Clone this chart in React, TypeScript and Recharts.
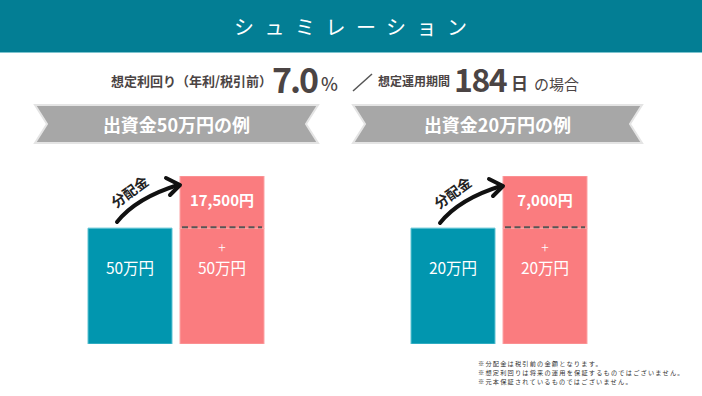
import React from 'react';
import { BarChart, Bar, XAxis, YAxis, Cell, LabelList } from 'recharts';

// ---- data ----
const TITLE = 'シュミレーション';
const rateLabel = '想定利回り（年利/税引前）';
const rateValue = '7.0';
const periodLabel = '想定運用期間';
const periodDays = '184';
const panelTitles = ['出資金50万円の例', '出資金20万円の例'];
const categories = ['出資金', '運用後'];
const principalMan = [50, 20]; // 万円
const dividendYen = [17500, 7000]; // 円
// schematic (not-to-scale) block heights used by the illustration
const principalBlock = [100, 100];
const dividendBlock = [45, 45];
const arrowLabel = '分配金';
const notes = [
  '※分配金は税引前の金額となります。',
  '※想定利回りは将来の運用を保証するものではございません。',
  '※元本保証されているものではございません。',
];

const FONT = '"Noto Sans CJK JP", "Noto Sans", sans-serif';
const TEAL = '#0196AF';
const PINK = '#FA7C7F';
const HEADER = '#037E94';
const DARK = '#4B4444';

const PrincipalLabel = (props: any) => {
  const { x, y, width, value } = props;
  if (value == null) return null;
  const cx = Number(x) + Number(width) / 2;
  const parts = String(value).split('|');
  const main = parts[parts.length - 1];
  return (
    <g>
      {parts.length > 1 && (
        <text x={cx} y={Number(y) + 25} textAnchor="middle" fill="#fff" fontSize={14} fontFamily={FONT} fontWeight={300}>
          {parts[0]}
        </text>
      )}
      <text x={cx} y={Number(y) + 46} textAnchor="middle" fill="#fff" fontSize={15.5} fontFamily={FONT} fontWeight={400}>
        {main}
      </text>
    </g>
  );
};

const DividendLabel = (props: any) => {
  const { x, y, width, value } = props;
  if (value == null || value === '') return null;
  const cx = Number(x) + Number(width) / 2;
  return (
    <text x={cx} y={Number(y) + 30} textAnchor="middle" fill="#fff" fontSize={15} fontFamily={FONT} fontWeight={700}>
      {value}
    </text>
  );
};

const DividendShape = (props: any) => {
  const { x, y, width, height, fill } = props;
  if (!height || height <= 0) return null;
  const by = y + height;
  return (
    <g>
      <rect x={x} y={y} width={width} height={height} fill={fill} stroke="#FCA3A5" strokeWidth={1} />
      <line x1={x + 2} x2={x + width - 2} y1={by - 1} y2={by - 1} stroke="#585656" strokeWidth={2} strokeDasharray="6 3.5" />
    </g>
  );
};

function Panel({ i, left }: { i: number; left: number }) {
  const data = categories.map((c, k) => ({
    name: c,
    principal: principalBlock[i],
    dividend: k === 1 ? dividendBlock[i] : undefined,
    pLabel: k === 1 ? `+|${principalMan[i]}万円` : `${principalMan[i]}万円`,
    dLabel: k === 1 ? `${dividendYen[i].toLocaleString('en-US')}円` : undefined,
  }));
  return (
    <div style={{ position: 'absolute', left, top: 176 }}>
      <BarChart width={184} height={168} data={data} margin={{ top: 0, right: 0, bottom: 0, left: 0 }} barSize={84}>
        <XAxis dataKey="name" hide />
        <YAxis hide domain={[0, 145]} />
        <Bar dataKey="principal" stackId="a" isAnimationActive={false}>
          {data.map((d, k) => (
            <Cell key={k} fill={k === 0 ? TEAL : PINK} stroke={k === 0 ? '#5EC3D3' : '#FCA3A5'} strokeWidth={1} />
          ))}
          <LabelList dataKey="pLabel" content={PrincipalLabel} />
        </Bar>
        <Bar dataKey="dividend" stackId="a" fill={PINK} shape={DividendShape} isAnimationActive={false}>
          <LabelList dataKey="dLabel" content={DividendLabel} />
        </Bar>
      </BarChart>
    </div>
  );
}

function Banner({ x1, x2, text }: { x1: number; x2: number; text: string }) {
  const y1 = 105, y2 = 143, n = 12, ym = (y1 + y2) / 2;
  const pts = `${x1},${y1} ${x2},${y1} ${x2 - n},${ym} ${x2},${y2} ${x1},${y2} ${x1 + n},${ym}`;
  return (
    <g>
      <polygon points={pts} fill="#A7A7A7" stroke="#E4E4E4" strokeWidth={2} strokeLinejoin="miter" />
      <text x={(x1 + x2) / 2} y={132} textAnchor="middle" fill="#fff" fontSize={18} fontWeight={700} fontFamily={FONT}>
        {text}
      </text>
    </g>
  );
}

function Arrow({ dx, dy = 0 }: { dx: number; dy?: number }) {
  return (
    <g transform={`translate(${dx},${dy})`}>
      <path d="M117,222 Q136,198 178,185" fill="none" stroke="#111" strokeWidth={4} strokeLinecap="round" />
      <path d="M166,178 L180,185 L170,195" fill="none" stroke="#111" strokeWidth={4} strokeLinecap="round" strokeLinejoin="round" />
      <text x={130} y={197} transform="rotate(-36 130 192)" textAnchor="middle" fill="#222" fontSize={14} fontWeight={700} fontFamily={FONT}>
        {arrowLabel}
      </text>
    </g>
  );
}

export default function App() {
  return (
    <div style={{ position: 'absolute', left: 0, top: 0, width: 702, height: 396, background: '#fff', overflow: 'hidden', fontFamily: FONT }}>
      <div style={{ position: 'absolute', left: 0, top: 0, width: 702, height: 52, background: HEADER, borderBottom: '1px solid #7EC4CF' }} />
      <div
        style={{
          position: 'absolute', left: 234, top: 12, color: '#fff', fontSize: 20, fontWeight: 400,
          letterSpacing: 10.5, whiteSpace: 'nowrap', lineHeight: '30px', fontFamily: FONT,
        }}
      >
        {TITLE}
      </div>

      <Panel i={0} left={84} />
      <Panel i={1} left={407} />

      <svg width={702} height={396} style={{ position: 'absolute', left: 0, top: 0, pointerEvents: 'none' }}>
        {/* subtitle */}
        <text x={111} y={86} fill={DARK} fontSize={13} fontWeight={700} fontFamily={FONT}>{rateLabel}</text>
        <text x={272} y={93} fill={DARK} fontSize={34} fontWeight={700} fontFamily={FONT} letterSpacing={-2}>{rateValue}</text>
        <text x={321} y={91} fill={DARK} fontSize={18} fontWeight={500} fontFamily={FONT}>%</text>
        <line x1={353} y1={91} x2={372} y2={74} stroke="#555" strokeWidth={1.5} />
        <text x={378} y={86} fill={DARK} fontSize={12} fontWeight={700} fontFamily={FONT}>{periodLabel}</text>
        <text x={454} y={92} fill={DARK} fontSize={32} fontWeight={700} fontFamily={FONT} letterSpacing={-1.5}>{periodDays}</text>
        <text x={511} y={90} fill={DARK} fontSize={17} fontWeight={700} fontFamily={FONT}>日</text>
        <text x={534} y={90} fill={DARK} fontSize={15} fontWeight={400} fontFamily={FONT}>の場合</text>

        <Banner x1={35} x2={318} text={panelTitles[0]} />
        <Banner x1={353} x2={642} text={panelTitles[1]} />

        <Arrow dx={0} />
        <Arrow dx={323} dy={1} />
      </svg>

      <div style={{ position: 'absolute', left: 478, top: 359, fontFamily: FONT, color: '#333' }}>
        {notes.map((t, k) => (
          <div key={k} style={{ height: 9, lineHeight: '9px', fontSize: 6.2, letterSpacing: 1.2, whiteSpace: 'nowrap' }}>
            {t}
          </div>
        ))}
      </div>
    </div>
  );
}
